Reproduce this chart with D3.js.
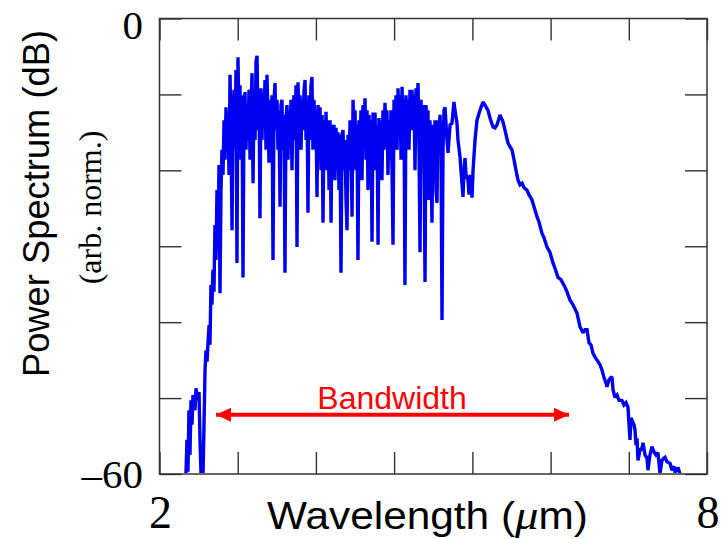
<!DOCTYPE html>
<html>
<head>
<meta charset="utf-8">
<script src="https://cdn.jsdelivr.net/npm/d3@7/dist/d3.min.js"></script>
<style>
  html, body { margin: 0; padding: 0; background: #ffffff; }
  svg { display: block; }
</style>
</head>
<body>
<script>
// ---------------- data ----------------
const wavelength = [
  2.290, 2.301, 2.312, 2.323, 2.334, 2.345, 2.356, 2.367, 2.389, 2.400, 2.422, 2.433,
  2.444, 2.455, 2.466, 2.477, 2.488, 2.499, 2.510, 2.521, 2.532, 2.543,
  2.553, 2.564, 2.575, 2.586, 2.597, 2.608, 2.619, 2.630, 2.641, 2.652,
  2.663, 2.674, 2.685, 2.696, 2.707, 2.718, 2.729, 2.740, 2.751, 2.762,
  2.773, 2.784, 2.795, 2.806, 2.817, 2.827, 2.838, 2.849, 2.860, 2.871,
  2.882, 2.893, 2.904, 2.915, 2.926, 2.937, 2.948, 2.959, 2.970, 2.981,
  2.992, 3.003, 3.014, 3.025, 3.036, 3.047, 3.058, 3.069, 3.080, 3.091,
  3.101, 3.112, 3.123, 3.134, 3.145, 3.156, 3.167, 3.178, 3.189, 3.200,
  3.211, 3.222, 3.233, 3.244, 3.255, 3.266, 3.277, 3.288, 3.298, 3.309,
  3.321, 3.331, 3.342, 3.353, 3.364, 3.375, 3.386, 3.397, 3.408, 3.419,
  3.430, 3.441, 3.452, 3.463, 3.474, 3.485, 3.496, 3.507, 3.518, 3.529,
  3.540, 3.551, 3.562, 3.573, 3.584, 3.595, 3.606, 3.617, 3.627, 3.638,
  3.649, 3.660, 3.671, 3.682, 3.693, 3.704, 3.715, 3.726, 3.737, 3.748,
  3.759, 3.770, 3.781, 3.792, 3.803, 3.814, 3.825, 3.836, 3.847, 3.858,
  3.869, 3.880, 3.890, 3.901, 3.912, 3.923, 3.934, 3.945, 3.956, 3.967,
  3.978, 3.989, 4.000, 4.011, 4.022, 4.033, 4.044, 4.055, 4.066, 4.077,
  4.088, 4.099, 4.110, 4.121, 4.132, 4.143, 4.153, 4.164, 4.175, 4.186,
  4.197, 4.208, 4.219, 4.230, 4.241, 4.252, 4.263, 4.274, 4.285, 4.296,
  4.307, 4.318, 4.329, 4.340, 4.351, 4.362, 4.373, 4.384, 4.395, 4.405,
  4.416, 4.427, 4.438, 4.449, 4.460, 4.471, 4.482, 4.493, 4.504, 4.515,
  4.526, 4.537, 4.548, 4.559, 4.570, 4.581, 4.592, 4.603, 4.614, 4.625,
  4.636, 4.647, 4.658, 4.668, 4.679, 4.690, 4.701, 4.712, 4.723, 4.734,
  4.745, 4.756, 4.767, 4.778, 4.789, 4.800, 4.811, 4.822, 4.833, 4.844,
  4.855, 4.866, 4.877, 4.888, 4.899, 4.910, 4.920, 4.931, 4.942, 4.953,
  4.964, 4.975, 4.986, 4.997, 5.008, 5.019, 5.030, 5.041, 5.052, 5.063,
  5.074, 5.085, 5.096, 5.107, 5.118, 5.129, 5.151, 5.162, 5.184, 5.205,
  5.227, 5.238, 5.260, 5.271, 5.293, 5.304, 5.326, 5.337, 5.348, 5.359,
  5.381, 5.392, 5.403, 5.425, 5.436, 5.458, 5.479, 5.512, 5.545, 5.567,
  5.600, 5.622, 5.655, 5.677, 5.699, 5.732, 5.742, 5.764, 5.786, 5.819,
  5.841, 5.863, 5.885, 5.907, 5.929, 5.951, 5.973, 5.995, 6.027, 6.049,
  6.082, 6.104, 6.137, 6.159, 6.192, 6.214, 6.247, 6.279, 6.312, 6.334,
  6.367, 6.400, 6.444, 6.466, 6.499, 6.531, 6.575, 6.608, 6.641, 6.663,
  6.685, 6.707, 6.729, 6.751, 6.773, 6.806, 6.827, 6.849, 6.871, 6.893,
  6.904, 6.926, 6.948, 6.959, 6.970, 6.992, 7.014, 7.036, 7.068, 7.090,
  7.112, 7.134, 7.156, 7.167, 7.178, 7.200, 7.211, 7.222, 7.233, 7.244,
  7.266, 7.288, 7.299, 7.321, 7.343, 7.353, 7.375, 7.397, 7.419, 7.441,
  7.463, 7.485, 7.507, 7.529, 7.540, 7.562, 7.595, 7.616, 7.638, 7.649,
  7.671, 7.682, 7.704
];

const powerDb = [
  -60, -55.5, -59.7, -51.6, -57.5, -50.3, -53.5, -49.6, -51.6, -48.7, -50.3, -49.2,
  -55.5, -60, -56.8, -60, -53.5, -46.3, -43.7, -45.2, -42.7, -40.4,
  -43.0, -35.1, -37.7, -33.1, -36.0, -27.2, -31.8, -22.6, -30.5, -19.3,
  -36.2, -22.6, -17.3, -20.6, -13.4, -18.6, -11.7, -16.7, -12.7, -20.6,
  -7.4, -16.0, -27.9, -12.1, -9.4, -17.3, -6.8, -32.2, -5.1, -13.4,
  -8.8, -18.6, -10.1, -34.1, -12.7, -9.7, -17.3, -11.4, -16.0, -9.4,
  -18.6, -12.1, -7.2, -21.7, -10.1, -16.0, -5.7, -4.9, -14.7, -10.1,
  -26.3, -9.2, -16.0, -9.7, -13.4, -8.1, -17.3, -7.4, -13.4, -19.0,
  -10.7, -16.0, -10.1, -31.8, -10.7, -8.5, -14.7, -10.7, -17.3, -12.1,
  -24.8, -11.4, -10.7, -17.3, -12.7, -33.5, -13.4, -11.4, -18.6, -12.1,
  -16.0, -10.7, -20.0, -12.1, -10.1, -16.0, -8.8, -30.1, -8.4, -13.4,
  -10.1, -17.3, -10.7, -14.7, -9.4, -8.1, -16.0, -10.7, -25.6, -10.1,
  -16.0, -8.8, -7.7, -17.3, -10.7, -14.7, -12.1, -23.5, -11.4, -16.0,
  -11.7, -20.0, -12.7, -26.9, -13.4, -17.3, -12.3, -20.0, -13.4, -22.6,
  -13.4, -26.9, -14.0, -18.6, -14.0, -21.3, -14.4, -18.6, -15.0, -22.6,
  -15.3, -33.5, -15.3, -14.7, -20.0, -16.0, -23.9, -27.9, -15.3, -20.0,
  -13.4, -17.3, -26.1, -10.7, -16.0, -12.1, -20.0, -14.0, -31.8, -13.4,
  -17.3, -12.1, -21.3, -11.4, -17.3, -10.5, -18.6, -12.1, -22.6, -12.7,
  -17.3, -13.4, -29.4, -12.4, -18.6, -12.4, -20.0, -14.0, -29.8, -13.1,
  -17.3, -13.4, -21.3, -12.1, -17.3, -11.1, -16.0, -12.1, -20.6, -13.4,
  -18.6, -12.1, -20.0, -29.8, -10.7, -14.7, -10.1, -17.3, -9.2, -14.7,
  -10.1, -18.6, -9.0, -13.4, -10.7, -35.1, -10.1, -16.0, -10.7, -17.3,
  -9.4, -14.7, -9.4, -13.4, -10.1, -20.0, -9.2, -14.7, -8.5, -17.3,
  -30.8, -10.7, -16.0, -11.4, -18.6, -34.7, -11.4, -14.7, -12.1, -23.9,
  -13.4, -18.6, -26.9, -14.0, -18.6, -13.4, -22.6, -24.3, -13.4, -16.0,
  -12.7, -17.3, -39.7, -17.3, -12.1, -11.7, -16.0, -17.7, -14.0, -13.8,
  -11.0, -12.1, -13.8, -16.0, -18.2, -20.0, -23.5, -20.0, -18.4, -20.6,
  -21.3, -23.2, -20.6, -23.6, -20.0, -16.0, -13.4, -12.1, -11.0, -11.4,
  -12.1, -13.1, -14.3, -14.4, -14.0, -12.7, -13.0, -13.6, -14.7, -16.4,
  -16.9, -17.3, -18.6, -20.0, -21.3, -21.9, -21.7, -22.3, -22.6, -23.2,
  -23.9, -24.8, -26.1, -26.8, -28.3, -28.9, -30.1, -30.8, -32.2, -32.9,
  -34.1, -34.4, -35.4, -36.0, -37.1, -37.7, -38.8, -40.6, -41.4, -41.0,
  -41.0, -42.7, -43.0, -44.1, -44.6, -45.2, -45.6, -46.3, -47.3, -48.0,
  -48.5, -47.6, -47.3, -47.2, -48.9, -49.9, -49.6, -50.3, -50.3, -50.9,
  -50.6, -51.2, -55.5, -52.6, -52.9, -53.5, -54.2, -56.2, -55.3, -58.2,
  -56.8, -56.6, -55.9, -57.5, -57.9, -59.5, -57.5, -56.4, -57.1, -57.5,
  -57.2, -59.9, -58.2, -57.9, -57.8, -58.4, -58.6, -59.5, -59.0, -59.7,
  -59.5, -59.1, -60
];

const xDomain = [2, 8];
const yDomain = [-60, 0];
const xTickValues = [2, 2.857, 3.714, 4.571, 5.429, 6.286, 7.143, 8];
const yTickValues = [0, -10, -20, -30, -40, -50, -60];
const xTickLabels = [{ v: 2, t: "2" }, { v: 8, t: "8" }];
const yTickLabels = [{ v: 0, t: "0" }, { v: -60, t: "\u201360" }];
const bandwidthRange = [2.608, 6.499];
const bandwidthLevel = -52.2;
const bandwidthLabel = "Bandwidth";

// ---------------- layout ----------------
const W = 721, H = 539;
const pLeft = 159.5, pRight = 707, pTop = 18.5, pBottom = 474;

const svg = d3.select("body").append("svg")
  .attr("width", W).attr("height", H)
  .attr("viewBox", `0 0 ${W} ${H}`);

const x = d3.scaleLinear().domain(xDomain).range([pLeft, pRight]);
const y = d3.scaleLinear().domain(yDomain).range([pBottom, pTop]);

const axisColor = "#333333";
const tickLen = 22;

const defs = svg.append("defs");
defs.append("clipPath").attr("id", "plotclip")
  .append("rect").attr("x", pLeft).attr("y", pTop - 2)
  .attr("width", pRight - pLeft).attr("height", pBottom - pTop + 1);

// spectrum line
const n = Math.min(wavelength.length, powerDb.length);
const pts = d3.range(n).map(i => [wavelength[i], powerDb[i]]);
const line = d3.line().x(d => x(d[0])).y(d => y(d[1]));

svg.append("path")
  .datum(pts)
  .attr("d", line)
  .attr("fill", "none")
  .attr("stroke", "#0000f0")
  .attr("stroke-width", 3.4)
  .attr("stroke-linejoin", "miter")
  .attr("stroke-miterlimit", 2)
  .attr("clip-path", "url(#plotclip)");

// axes (ticks inward on all four sides)
function styleAxis(g) {
  g.select(".domain").remove();
  g.selectAll(".tick line").attr("stroke", axisColor).attr("stroke-width", 1.4);
  g.selectAll(".tick text").remove();
}
svg.append("g").attr("transform", `translate(0,${pBottom})`)
  .call(d3.axisBottom(x).tickValues(xTickValues).tickSize(-tickLen).tickFormat(""))
  .call(styleAxis);
svg.append("g").attr("transform", `translate(0,${pTop})`)
  .call(d3.axisTop(x).tickValues(xTickValues).tickSize(-tickLen).tickFormat(""))
  .call(styleAxis);
svg.append("g").attr("transform", `translate(${pLeft},0)`)
  .call(d3.axisLeft(y).tickValues(yTickValues).tickSize(-tickLen).tickFormat(""))
  .call(styleAxis);
svg.append("g").attr("transform", `translate(${pRight},0)`)
  .call(d3.axisRight(y).tickValues(yTickValues).tickSize(-tickLen).tickFormat(""))
  .call(styleAxis);

// frame
svg.append("rect")
  .attr("x", pLeft).attr("y", pTop)
  .attr("width", pRight - pLeft).attr("height", pBottom - pTop)
  .attr("fill", "none").attr("stroke", axisColor).attr("stroke-width", 1.5);

// tick labels
const serif = "'Liberation Serif', 'Times New Roman', serif";
const sans = "'Liberation Sans', Arial, Helvetica, sans-serif";

svg.selectAll(".ylab").data(yTickLabels).enter().append("text")
  .attr("x", 143)
  .attr("y", d => y(d.v) + (d.v === 0 ? 20.5 : 14))
  .attr("text-anchor", "end")
  .attr("font-family", serif)
  .attr("font-size", 41)
  .attr("fill", "#000")
  .text(d => d.t);

svg.selectAll(".xlab").data(xTickLabels).enter().append("text")
  .attr("x", d => x(d.v) + 1)
  .attr("y", 528)
  .attr("text-anchor", "middle")
  .attr("font-family", serif)
  .attr("font-size", 46)
  .attr("fill", "#000")
  .text(d => d.t);

// x axis title
const xt = svg.append("text")
  .attr("x", 267).attr("y", 529)
  .attr("font-family", sans).attr("font-size", 38).attr("fill", "#000")
  .attr("textLength", 321).attr("lengthAdjust", "spacingAndGlyphs");
xt.append("tspan").text("Wavelength (");
xt.append("tspan").attr("font-family", serif).attr("font-style", "italic").attr("font-size", 42).text("\u03BC");
xt.append("tspan").text("m)");

// y axis titles
svg.append("text")
  .attr("transform", "translate(49,203.5) rotate(-90)")
  .attr("text-anchor", "middle")
  .attr("font-family", sans).attr("font-size", 37)
  .attr("textLength", 347).attr("lengthAdjust", "spacingAndGlyphs")
  .attr("fill", "#000")
  .text("Power Spectrum (dB)");

svg.append("text")
  .attr("transform", "translate(101,207.5) rotate(-90)")
  .attr("text-anchor", "middle")
  .attr("font-family", serif).attr("font-size", 32)
  .attr("fill", "#000")
  .text("(arb. norm.)");

// bandwidth arrow
const red = "#ff0000";
["start", "end"].forEach(k => {
  defs.append("marker")
    .attr("id", "arrow-" + k)
    .attr("markerUnits", "userSpaceOnUse")
    .attr("markerWidth", 16).attr("markerHeight", 16)
    .attr("viewBox", "0 -8 16 16")
    .attr("refX", 15).attr("refY", 0)
    .attr("orient", k === "end" ? "auto" : "auto-start-reverse")
    .append("path")
    .attr("d", "M0,-7L15,0L0,7Z")
    .attr("fill", red);
});

svg.append("line")
  .attr("x1", x(bandwidthRange[0]) + 1).attr("x2", x(bandwidthRange[1]) - 1)
  .attr("y1", y(bandwidthLevel)).attr("y2", y(bandwidthLevel))
  .attr("stroke", red).attr("stroke-width", 4)
  .attr("marker-start", "url(#arrow-start)")
  .attr("marker-end", "url(#arrow-end)");

svg.append("text")
  .attr("x", 392).attr("y", 409)
  .attr("text-anchor", "middle")
  .attr("font-family", sans).attr("font-size", 32)
  .attr("fill", red)
  .text(bandwidthLabel);
</script>
</body>
</html>
